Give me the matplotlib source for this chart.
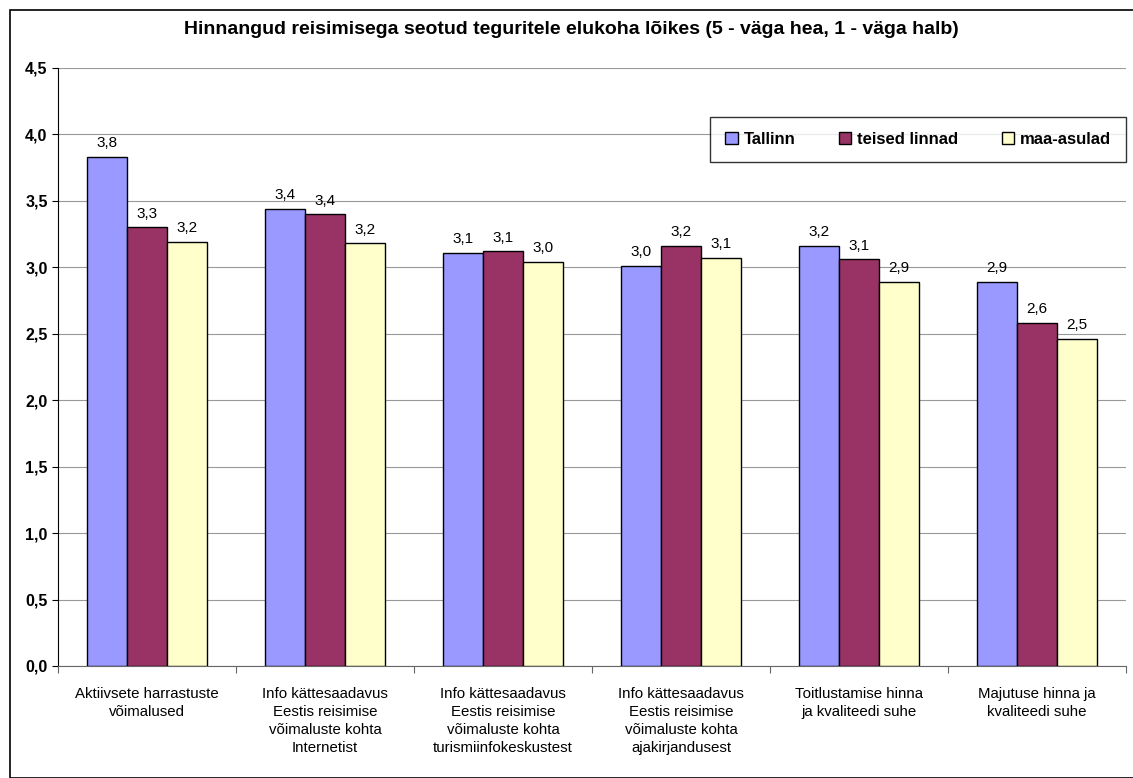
#### Imports ####
import matplotlib
matplotlib.use('Agg')
import matplotlib.pyplot as plt
from matplotlib.patches import Rectangle
from matplotlib.ticker import FuncFormatter
import numpy as np
#### Imports ####

plt.rcParams['font.family'] = ['Liberation Sans', 'DejaVu Sans']

# Daten
categories = [
    'Aktiivsete harrastuste\nvõimalused',
    'Info kättesaadavus\nEestis reisimise\nvõimaluste kohta\nInternetist',
    'Info kättesaadavus\nEestis reisimise\nvõimaluste kohta\nturismiinfokeskustest',
    'Info kättesaadavus\nEestis reisimise\nvõimaluste kohta\najakirjandusest',
    'Toitlustamise hinna\nja kvaliteedi suhe',
    'Majutuse hinna ja\nkvaliteedi suhe',
]
series_names = ['Tallinn', 'teised linnad', 'maa-asulad']
tallinn = [3.83, 3.44, 3.11, 3.01, 3.16, 2.89]
teised_linnad = [3.30, 3.40, 3.12, 3.16, 3.06, 2.58]
maa_asulad = [3.19, 3.18, 3.04, 3.07, 2.89, 2.46]
colors = ['#9999FF', '#993366', '#FFFFCC']

fig = plt.figure(figsize=(11.33, 7.78), dpi=100)
ax = fig.add_axes([0.0512, 0.144, 0.9426, 0.7686])

# Rahmen um das ganze Diagramm
fig.patches.append(Rectangle((10 / 1133, 0), 1.2, 1 - 10 / 778, transform=fig.transFigure,
                             fill=False, edgecolor='black', linewidth=1.2))

x = np.arange(len(categories))
width = 0.225
for i, (vals, name) in enumerate(zip([tallinn, teised_linnad, maa_asulad], series_names)):
    pos = x + (i - 1) * width
    ax.bar(pos, vals, width, color=colors[i], edgecolor='black', linewidth=1.0,
           label=name, zorder=3)
    for px, v in zip(pos, vals):
        ax.text(px, v + 0.05, f'{v:.1f}'.replace('.', ','), ha='center', va='bottom',
                fontsize=11)

ax.set_xlim(-0.5, len(categories) - 0.5)
ax.set_ylim(0, 4.5)
ax.set_yticks(np.arange(0, 4.51, 0.5))
ax.yaxis.set_major_formatter(FuncFormatter(lambda v, p: f'{v:.1f}'.replace('.', ',')))
for lbl in ax.get_yticklabels():
    lbl.set_fontweight('bold')
ax.tick_params(axis='y', labelsize=11.5, length=4, direction='out')
ax.yaxis.grid(True, color='#999999', linewidth=0.8, zorder=0)

ax.set_xticks(np.arange(-0.5, len(categories), 1.0))
ax.set_xticklabels([])
ax.set_xticks(x, minor=True)
ax.set_xticklabels(categories, minor=True, fontsize=10.8, linespacing=1.38)
ax.tick_params(axis='x', which='major', length=5, direction='out', color='#666666')
ax.tick_params(axis='x', which='minor', length=0, pad=15)

for s in ['top', 'right']:
    ax.spines[s].set_visible(False)
ax.spines['bottom'].set_color('#666666')

fig.text(0.5 * (10 / 1133 + 1), 1 - 30 / 778,
         'Hinnangud reisimisega seotud teguritele elukoha lõikes (5 - väga hea, 1 - väga halb)',
         fontsize=14, fontweight='bold', ha='center', va='center')

leg = ax.legend(loc='upper right', bbox_to_anchor=(1.0, 0.918), ncol=3, frameon=True,
                fancybox=False, edgecolor='black', prop={'weight': 'bold', 'size': 12},
                handlelength=0.75, handleheight=0.75, columnspacing=2.6, handletextpad=0.35,
                borderpad=0.9, borderaxespad=0)
leg.get_frame().set_linewidth(1.0)

plt.savefig('out.png', dpi=100)
plt.close()
